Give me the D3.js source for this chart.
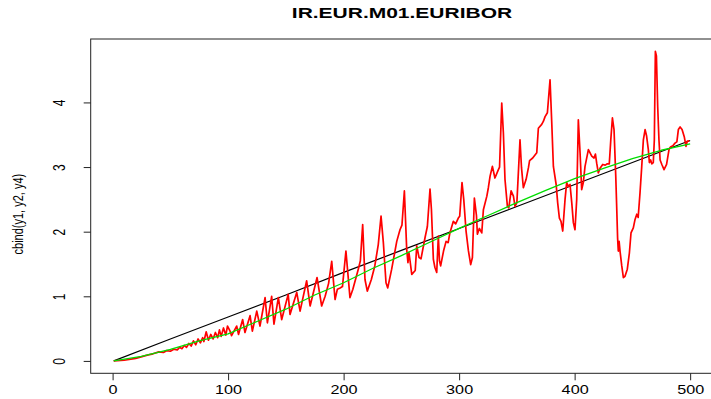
<!DOCTYPE html>
<html>
<head>
<meta charset="utf-8">
<script src="https://cdn.jsdelivr.net/npm/d3@7"></script>
<style>
  body { margin: 0; background: #fff; }
  text { font-family: "Liberation Sans", Arial, sans-serif; fill: #000; }
</style>
</head>
<body>
<svg width="711" height="399"></svg>
<script>
var title = "IR.EUR.M01.EURIBOR";
var yLabel = "cbind(y1, y2, y4)";
var xTicks = [0, 100, 200, 300, 400, 500];
var yTicks = [0, 1, 2, 3, 4];

// y1 (black)
var blackIdx = [1, 50, 100, 150, 200, 250, 300, 350, 400, 450, 500];
var blackVal = [0.00, 0.34, 0.68, 1.02, 1.37, 1.71, 2.05, 2.39, 2.73, 3.07, 3.41];

// y4 (green)
var greenIdx = [1, 25, 50, 75, 100, 125, 150, 175, 200, 225, 250, 275, 300, 325, 350, 375, 400, 425, 450, 475, 500];
var greenVal = [0.00, 0.07, 0.18, 0.31, 0.42, 0.61, 0.80, 1.02, 1.21, 1.43, 1.63, 1.84, 2.05, 2.25, 2.45, 2.64, 2.82, 2.98, 3.13, 3.26, 3.36];

// y2 (red), peaks and troughs
var redIdx = [1, 10, 20, 30, 35, 40, 44, 47, 50, 53, 56, 58, 60, 62, 64, 66, 68, 70, 72, 74, 76, 78, 79, 81, 83, 85, 87, 89, 91, 92.5, 94, 96, 98, 99.5,
  101.7, 103, 107.4, 109, 112.6, 114.6, 119, 121, 124.8, 127.6, 132, 134, 137.7, 139.7, 143.5, 146.4, 152, 153.6, 159.4, 162.3, 168, 171, 177, 181, 184, 187, 189.7, 192.6, 194.6, 197, 199, 202, 205.5,
  208, 212.7, 214.5, 216.5, 218.5, 220.5, 224, 227, 230, 232.4, 234.4, 236.7, 238.2, 241.6, 246, 248.8, 250.5, 252.6, 254.6, 255.7, 256.5, 257.5, 259, 262, 263.3, 265.3, 267, 270.5, 272.5, 274.8, 276, 277.7, 279, 280.6, 282, 283, 284, 286.5, 288.7, 290.5, 292, 295, 297, 299.3, 300.5, 302.5, 304, 306, 308, 310, 311.5, 313.2,
  315, 315.8, 317.5, 319.6, 321, 324, 325.3, 326.8, 328.8, 331, 334, 335, 336.9, 338.3, 339.7, 341.8, 343, 345, 347, 348.4, 350, 352.7, 354, 355.6, 358, 360, 361, 363.7, 367.2, 368.6, 371.5, 373, 374.4, 376.4, 378.7, 380.2, 381.6, 384, 385.3, 386.8, 388.2, 389.7, 391.7, 393.1, 394.5, 396, 397.5, 398.9, 400.3, 401.8, 403.2, 404.7, 406.1, 407.5, 409, 411.9, 414.8, 416.8,
  418, 419.1, 420.5, 422, 424.3, 426.5, 428.3, 430, 431.3, 432.7, 434.1, 435.6, 436.4, 437.2, 437.8, 438.5, 439.3, 440.8, 442.2, 443.6, 445.6, 447.4, 448.8, 450.8, 452.3, 453.8, 455, 456.6, 458.1, 459.5, 461, 462.3, 463.8, 464.7, 465.8, 466.8, 468.1, 469, 469.9, 470.8, 471.9, 473, 474, 475.5, 477.4, 479.6, 481.7, 483, 485, 486.9, 488.5, 489.8, 491.3, 493, 494.9, 496.4, 497.5, 499.3];
var redVal = [0.00, 0.01, 0.04, 0.09, 0.11, 0.14, 0.13, 0.16, 0.15, 0.18, 0.17, 0.21, 0.19, 0.24, 0.21, 0.27, 0.23, 0.31, 0.25, 0.34, 0.28, 0.36, 0.30, 0.45, 0.32, 0.41, 0.34, 0.44, 0.36, 0.48, 0.38, 0.51, 0.40, 0.54,
  0.46, 0.39, 0.54, 0.41, 0.64, 0.44, 0.70, 0.46, 0.77, 0.54, 0.98, 0.59, 1.00, 0.57, 0.98, 0.64, 1.03, 0.72, 1.06, 0.77, 1.24, 0.85, 1.29, 0.85, 1.00, 1.20, 1.54, 0.95, 1.11, 1.13, 1.15, 1.70, 0.98,
  1.11, 1.42, 1.55, 2.11, 1.26, 1.08, 1.26, 1.47, 1.80, 2.24, 1.83, 1.21, 1.13, 1.42, 1.85, 2.03, 2.10, 2.63, 1.73, 1.52, 1.68, 1.55, 1.34, 1.40, 1.78, 1.60, 1.58, 1.91, 2.08, 2.66, 2.35, 1.57, 1.45, 1.37, 1.93, 1.55, 1.47, 1.70, 1.85, 1.83, 1.98, 2.16, 2.12, 2.21, 2.24, 2.76, 2.50, 2.01, 1.71, 1.49, 1.60, 2.52,
  2.25, 1.96, 2.05, 1.98, 2.34, 2.55, 2.68, 2.86, 3.01, 2.83, 2.96, 3.00, 3.99, 3.53, 2.81, 2.39, 2.37, 2.63, 2.55, 2.39, 2.45, 3.42, 2.99, 2.68, 2.81, 2.99, 3.10, 3.14, 3.22, 3.60, 3.66, 3.71, 3.78, 3.84, 4.35, 3.68, 3.01, 2.73, 2.45, 2.21, 2.16, 2.01, 2.50, 2.76, 2.70, 2.73, 2.45, 2.14, 2.03, 2.50, 3.73, 3.22, 2.65, 2.76, 3.01, 3.27, 3.17, 3.14,
  3.20, 3.06, 2.91, 2.98, 3.04, 3.03, 3.05, 3.05, 3.42, 3.76, 3.58, 2.86, 2.39, 1.90, 1.70, 1.85, 1.70, 1.47, 1.29, 1.31, 1.42, 1.67, 1.98, 2.06, 2.19, 2.27, 2.22, 2.60, 3.01, 3.42, 3.58, 3.48, 3.27, 3.07, 3.11, 3.05, 3.07, 3.42, 4.79, 4.72, 3.94, 3.42, 3.11, 3.04, 2.96, 3.04, 3.27, 3.31, 3.33, 3.37, 3.39, 3.58, 3.62, 3.58, 3.47, 3.32, 3.40, 3.40];

var svg = d3.select("svg");
var box = { left: 90.7, right: 713.2, top: 39, bottom: 373.3 };

// R style 4% padding around the data range
var xr = [1, 500], yr = [0, d3.max(redVal)];
var px = 0.04 * (xr[1] - xr[0]), py = 0.04 * (yr[1] - yr[0]);

var x = d3.scaleLinear()
  .domain([xr[0] - px, xr[1] + px])
  .range([box.left, box.right]);
var y = d3.scaleLinear()
  .domain([yr[0] - py, yr[1] + py])
  .range([box.bottom, box.top]);

var line = d3.line()
  .x(d => x(d[0]))
  .y(d => y(d[1]));

var series = [
  { idx: blackIdx, val: blackVal, color: "#000", width: 1.2 },
  { idx: redIdx, val: redVal, color: "#ff0000", width: 1.7 },
  { idx: greenIdx, val: greenVal, color: "#00dd00", width: 1.3 }
];

svg.selectAll("path.series")
  .data(series).enter()
  .append("path")
  .attr("class", "series")
  .attr("fill", "none")
  .attr("stroke", d => d.color)
  .attr("stroke-width", d => d.width)
  .attr("stroke-linejoin", "round")
  .attr("d", d => line(d.idx.map((v, i) => [v, d.val[i]])));

// box
svg.append("rect")
  .attr("x", box.left).attr("y", box.top)
  .attr("width", box.right - box.left).attr("height", box.bottom - box.top)
  .attr("fill", "none").attr("stroke", "#222").attr("stroke-width", 1);

// x axis
var gx = svg.append("g")
  .attr("transform", "translate(0," + box.bottom + ")")
  .call(d3.axisBottom(x).tickValues(xTicks).tickFormat(d3.format("d")).tickSize(7).tickPadding(5));
gx.select(".domain").remove();
gx.selectAll("line").attr("stroke", "#222");
gx.selectAll("text")
  .attr("font-size", 12)
  .attr("transform", "scale(1.35,1)")
  .attr("font-family", "Liberation Sans, Arial, sans-serif");

// y axis
var gy = svg.append("g")
  .attr("transform", "translate(" + box.left + ",0)")
  .call(d3.axisLeft(y).tickValues(yTicks).tickFormat(d3.format("d")).tickSize(7));
gy.select(".domain").remove();
gy.selectAll("line").attr("stroke", "#222");
gy.selectAll("text")
  .attr("x", 0).attr("dy", "0.35em")
  .attr("text-anchor", "middle")
  .attr("font-size", 12)
  .attr("font-family", "Liberation Sans, Arial, sans-serif")
  .attr("transform", "translate(-32,0) scale(1.45,1) rotate(-90)");

// title
svg.append("text")
  .attr("text-anchor", "middle")
  .attr("font-weight", "bold")
  .attr("font-size", 14)
  .attr("transform", "translate(" + ((box.left + box.right) / 2) + ",18) scale(1.5,1)")
  .text(title);

// y label
svg.append("text")
  .attr("text-anchor", "middle")
  .attr("font-size", 11)
  .attr("dy", "0.35em")
  .attr("transform", "translate(18," + ((box.top + box.bottom) / 2 + 8) + ") scale(1.4,1) rotate(-90)")
  .text(yLabel);
</script>
</body>
</html>
